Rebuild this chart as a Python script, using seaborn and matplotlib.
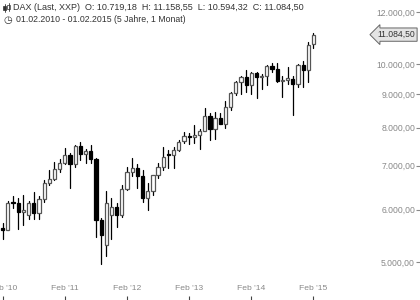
import numpy as np
import pandas as pd
import matplotlib
matplotlib.use("Agg")
import matplotlib.pyplot as plt
from matplotlib.ticker import FixedLocator, NullLocator, FuncFormatter
from matplotlib.lines import Line2D
from matplotlib.patches import Rectangle
import seaborn as sns

# Monthly DAX candles, Feb 2010 .. Feb 2015
months = pd.date_range("2010-02-01", "2015-02-01", freq="MS").strftime("%Y-%m").tolist()
opens = [5608, 5598, 6153, 6136, 5964, 5900, 6148, 5925, 6229, 6601, 6688, 6914,
         7077, 7272, 7041, 7514, 7294, 7376, 7159, 5785, 5300, 5900, 6060, 5898,
         6459, 6856, 6947, 6761, 6264, 6416, 6772, 6971, 7300, 7270, 7405, 7640,
         7776, 7742, 7795, 7914, 8349, 7959, 8276, 8103, 8594, 9034, 9405, 9552,
         9306, 9692, 9556, 9603, 9943, 9833, 9407, 9470, 9474, 9327, 9981, 9806,
         10719.18]
highs = [5720, 6190, 6300, 6260, 6320, 6180, 6386, 6308, 6653, 6907, 7087, 7180,
         7441, 7310, 7527, 7600, 7421, 7523, 7190, 5838, 6400, 6250, 6140, 6540,
         6960, 7194, 7050, 6890, 6600, 6786, 7060, 7478, 7400, 7480, 7672, 7871,
         7863, 8074, 7960, 8557, 8420, 8465, 8430, 8770, 9050, 9430, 9600, 9795,
         9720, 9740, 9660, 9960, 10051, 10032, 9600, 9891, 9600, 10016, 10093, 10810,
         11158.55]
lows = [5420, 5590, 6040, 5600, 5680, 5800, 5804, 5809, 6157, 6542, 6651, 6855,
        7055, 6470, 6960, 7153, 7067, 7060, 5458, 4966, 5100, 5420, 5640, 5850,
        6440, 6750, 6480, 6160, 5990, 6330, 6700, 6900, 6940, 6950, 7380, 7570,
        7560, 7580, 7420, 7900, 7655, 7700, 8100, 8000, 8500, 8960, 9017, 9050,
        9010, 8870, 9150, 9300, 9740, 9380, 8903, 9337, 8355, 9230, 9219, 9382,
        10594.32]
closes = [5598, 6153, 6136, 5964, 5966, 6148, 5925, 6229, 6601, 6688, 6914, 7077,
          7272, 7041, 7514, 7294, 7376, 7159, 5785, 5502, 6141, 6060, 5898, 6459,
          6856, 6947, 6761, 6264, 6416, 6772, 6971, 7216, 7260, 7405, 7612, 7776,
          7742, 7795, 7914, 8349, 7959, 8276, 8103, 8594, 9034, 9405, 9552, 9306,
          9692, 9556, 9603, 9943, 9833, 9407, 9470, 9474, 9327, 9981, 9806, 10694,
          11084.50]
tick_months = [0, 12, 24, 36, 48, 60]
tick_labels = ["Feb '10", "Feb '11", "Feb '12", "Feb '13", "Feb '14", "Feb '15"]
y_ticks = [5000, 6000, 7000, 8000, 9000, 10000, 12000]
last_price = 11084.50
header_name = "DAX (Last, XXP)"
header_ohlc = "O: 10.719,18  H: 11.158,55  L: 10.594,32  C: 11.084,50"
header_range = "01.02.2010 - 01.02.2015 (5 Jahre, 1 Monat)"


def de_fmt(v, pos=None):
    s = f"{v:,.2f}"
    return s.replace(",", "X").replace(".", ",").replace("X", ".")


sns.set_theme(style="white")
plt.rcParams['font.family'] = ['Liberation Sans', 'DejaVu Sans']

fig = plt.figure(figsize=(4.2, 3.0), dpi=100)
ax = fig.add_axes([0, 0, 1, 1])
ax.set_facecolor("white")

idx = np.arange(len(opens))
o = np.array(opens, float)
c = np.array(closes, float)

# wicks via seaborn
wick_df = pd.DataFrame({
    "i": np.repeat(idx, 2),
    "price": np.ravel(np.column_stack([lows, highs])),
})
sns.lineplot(data=wick_df, x="i", y="price", units="i", estimator=None,
             color="black", linewidth=0.9, ax=ax, legend=False, zorder=2)

up = c >= o
bottoms = np.minimum(o, c)
heights = np.maximum(np.abs(c - o), bottoms * 0.004)
ax.bar(idx[up], heights[up], bottom=bottoms[up], width=0.62, color="white",
       edgecolor="#555555", linewidth=0.9, zorder=3)
ax.bar(idx[~up], heights[~up], bottom=bottoms[~up], width=0.62, color="black",
       edgecolor="black", linewidth=0.9, zorder=3)

ax.set_yscale("log")
ax.set_xlim(-0.52, 80.56)
ax.set_ylim(4374, 12514)
ax.set_xlabel("")
ax.set_ylabel("")
for s in ax.spines.values():
    s.set_visible(False)

ax.yaxis.set_major_locator(FixedLocator(y_ticks))
ax.yaxis.set_minor_locator(NullLocator())
ax.yaxis.set_major_formatter(FuncFormatter(de_fmt))
ax.yaxis.tick_right()
ax.tick_params(axis="y", which="major", direction="in", length=3, width=0.8,
               color="#888888", labelsize=6.2, labelcolor="#888888", pad=-3.6,
               right=True, left=False)

ax.set_xticks(tick_months)
ax.set_xticklabels(tick_labels)
ax.xaxis.set_minor_locator(NullLocator())
ax.tick_params(axis="x", which="major", direction="in", length=3, width=0.8,
               color="#444444", labelsize=6.1, labelcolor="#888888", pad=-10.5,
               bottom=True)

# current price tag
ax.text(0.988, last_price, de_fmt(last_price), transform=ax.get_yaxis_transform(),
        ha="right", va="center", fontsize=6.2, color="#333333", zorder=5,
        bbox=dict(boxstyle="larrow,pad=0.25", fc="#e4e4e4", ec="#666666", lw=0.7))

# header
W, H = 420.0, 300.0
fig.text(13 / W, 1 - 8 / H, header_name + "  " + header_ohlc, ha="left", va="center",
         fontsize=6.5, color="#333333")
fig.text(3 / W, 1 - 20 / H, "\u25f7", ha="left", va="center", fontsize=7.2,
         color="#333333", family=["DejaVu Sans"])
fig.text(16 / W, 1 - 20 / H, header_range, ha="left", va="center",
         fontsize=6.3, color="#333333")
# small candle icon
for xx, y0, y1, b0, b1, fill in [(4.5, 4, 12, 6, 10, "#333333"), (8.5, 3, 11, 5, 9, "white")]:
    fig.add_artist(Line2D([xx / W, xx / W], [1 - y0 / H, 1 - y1 / H], color="#333333", lw=0.6))
    fig.add_artist(Rectangle(((xx - 1.1) / W, 1 - b1 / H), 2.2 / W, (b1 - b0) / H,
                             facecolor=fill, edgecolor="#333333", lw=0.5))

fig.canvas.draw()
for t in ax.yaxis.get_major_ticks():
    t.label2.set_horizontalalignment("right")

fig.savefig("out.png", dpi=100, facecolor="white")
